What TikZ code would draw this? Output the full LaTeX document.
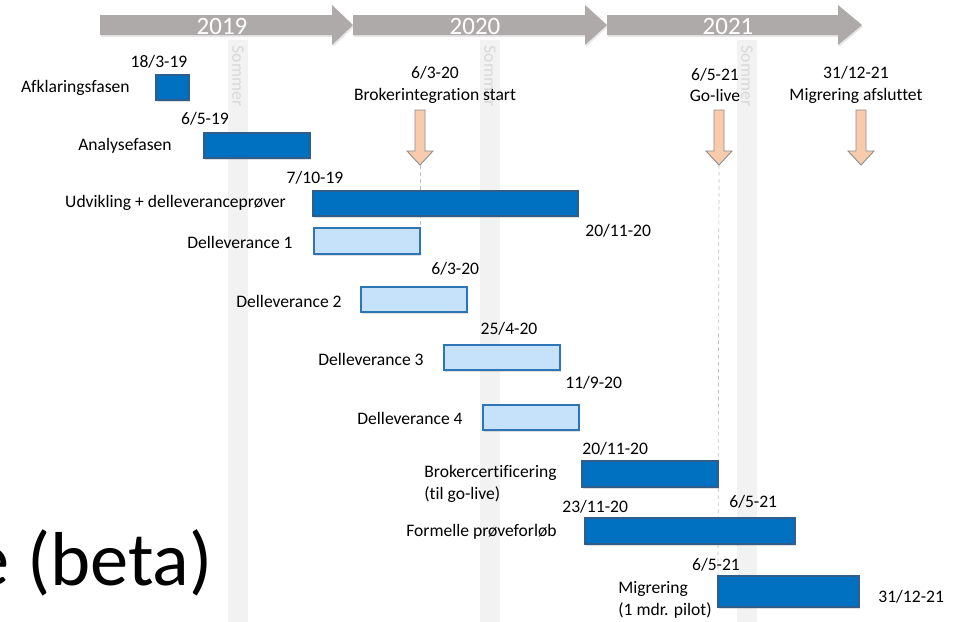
\documentclass[tikz,border=0pt]{standalone}
\usepackage{fontspec}
\setmainfont{Carlito}[Ligatures=NoCommon]
\usetikzlibrary{positioning,shadows}

\definecolor{yeargray}{HTML}{AEAAAA}
\definecolor{summergray}{HTML}{F2F2F2}
\definecolor{summertext}{HTML}{D9D9D9}
\definecolor{phaseblue}{HTML}{0070C0}
\definecolor{phaseedge}{HTML}{2F5D8C}
\definecolor{subblue}{HTML}{C5E2FA}
\definecolor{subedge}{HTML}{2E75B6}
\definecolor{milefill}{HTML}{F8CBAD}
\definecolor{mileedge}{HTML}{8C8C8C}

\tikzset{
  phase/.style={draw=phaseedge, fill=phaseblue, line width=0.6pt, inner sep=0pt, outer sep=0pt, anchor=north west,
    drop shadow={opacity=0.25, shadow xshift=0.7pt, shadow yshift=-1.2pt}},
  subphase/.style={phase, draw=subedge, fill=subblue},
  lbl/.style={font=\fontsize{10}{12.3}\selectfont, inner sep=0pt},
  yearlbl/.style={font=\fontsize{14.2}{16}\selectfont, text=white, inner sep=0pt, anchor=base},
  summer/.style={fill=summergray},
  summerlbl/.style={font=\fontsize{10}{12}\selectfont, text=summertext, rotate=-90, inner sep=0pt},
  guide/.style={draw=black!25, line width=0.4pt, dash pattern=on 2pt off 2pt},
  milearrow/.style={fill=milefill, draw=mileedge, line width=0.5pt},
}

% name, style, x1, x2, top, bottom
\newcommand{\ganttbar}[6]{%
  \node[#2, minimum width={(#4-#3)*0.02cm}, minimum height={(#6-#5)*0.02cm}] (#1) at (#3,#5) {};}
% name, x, top, tip
\newcommand{\milestone}[4]{%
  \draw[milearrow] (#2-5,#3) -- (#2+5,#3) -- (#2+5,#4-14) -- (#2+13,#4-14) -- (#2,#4)
    -- (#2-13,#4-14) -- (#2-5,#4-14) -- cycle;
  \coordinate (#1) at (#2,#4);}
% name, start, head, tip, text x, text
\newcommand{\yeararrow}[6]{%
  \fill[yeargray, drop shadow={opacity=0.2, shadow xshift=0.6pt, shadow yshift=-1pt}]
    (#2,15) -- (#3,15) -- (#3,5) -- (#4,25) -- (#3,45) -- (#3,35) -- (#2,35) -- cycle;
  \node[yearlbl] (#1) at (#5,34) {#6};}

\begin{document}
\begin{tikzpicture}[x=0.02cm, y=-0.02cm]
    \clip (0,0) rectangle (964,622);

    \foreach \sx/\sn in {238/s1, 490/s2, 747/s3} {
        \fill[summer] (\sx-10,40) rectangle (\sx+10,622);
        \node[summerlbl] (\sn) at (\sx,76) {Sommer};
    }

    \yeararrow{y19}{100}{332}{353}{222}{2019}
    \yeararrow{y20}{353}{585}{607}{475}{2020}
    \yeararrow{y21}{607}{838}{862}{728}{2021}

    \node[font=\fontsize{43.5}{50}\selectfont, anchor=base east, inner sep=0pt] (beta) at (213,585) {e (beta)};

    \milestone{mBroker}{420}{110}{165}
    \milestone{mGolive}{719}{110}{165}
    \milestone{mMigr}{861}{110}{165}
    \node[lbl, align=center] (mBrokerTxt) at (435,85) {6/3-20\\Brokerintegration start};
    \node[lbl, align=center] (mGoliveTxt) at (715,85) {6/5-21\\Go-live};
    \node[lbl, align=center] (mMigrTxt) at (856,85) {31/12-21\\Migrering afsluttet};

    \draw[guide] (mBroker) -- (420,228);
    \draw[guide] (mGolive) -- (718,576);

    \ganttbar{afk}{phase}{156}{189}{75}{100}
    \ganttbar{ana}{phase}{204}{310}{133}{158}
    \ganttbar{udv}{phase}{313}{578}{191}{216}
    \ganttbar{d1}{subphase}{314}{420}{228}{254}
    \ganttbar{d2}{subphase}{361}{467}{287}{312}
    \ganttbar{d3}{subphase}{444}{560}{345}{370}
    \ganttbar{d4}{subphase}{483}{579}{405}{430}
    \ganttbar{brk}{phase}{582}{718}{461}{487}
    \ganttbar{frm}{phase}{585}{795}{518}{544}
    \ganttbar{mig}{phase}{718}{859}{576}{607}

    \node[lbl] (afkStart) at (159,62) {18/3-19};
    \node[lbl, anchor=east] (afkTxt) at (130,88) {Afklaringsfasen};
    \node[lbl] (anaStart) at (205,119) {6/5-19};
    \node[lbl, anchor=east] (anaTxt) at (172,146) {Analysefasen};
    \node[lbl] (udvStart) at (315,178) {7/10-19};
    \node[lbl, anchor=east] (udvTxt) at (286,203) {Udvikling + delleveranceprøver};
    \node[lbl, anchor=west] (udvEnd) at (585,231) {20/11-20};
    \node[lbl, anchor=east] (d1Txt) at (293,242) {Delleverance 1};
    \node[lbl, anchor=west] (d2Start) at (431,269) {6/3-20};
    \node[lbl, anchor=east] (d2Txt) at (342,301) {Delleverance 2};
    \node[lbl] (d3Start) at (509,329) {25/4-20};
    \node[lbl, anchor=east] (d3Txt) at (424,359) {Delleverance 3};
    \node[lbl, anchor=west] (d4Start) at (565,383) {11/9-20};
    \node[lbl, anchor=east] (d4Txt) at (463,418) {Delleverance 4};
    \node[lbl, anchor=west] (brkStart) at (582,449) {20/11-20};
    \node[lbl, anchor=west, align=left] (brkTxt) at (424,484) {Brokercertificering\\(til go-live)};
    \node[lbl, anchor=west] (frmStart) at (562,507) {23/11-20};
    \node[lbl, anchor=west] (frmEnd) at (729,502) {6/5-21};
    \node[lbl, anchor=east] (frmTxt) at (557,532) {Formelle prøveforløb};
    \node[lbl] (migStart) at (716,565) {6/5-21};
    \node[lbl, anchor=west, align=left] (migTxt) at (618,600) {Migrering\\(1 mdr. pilot)};
    \node[lbl, anchor=west] (migEnd) at (878,597) {31/12-21};
\end{tikzpicture}
\end{document}
